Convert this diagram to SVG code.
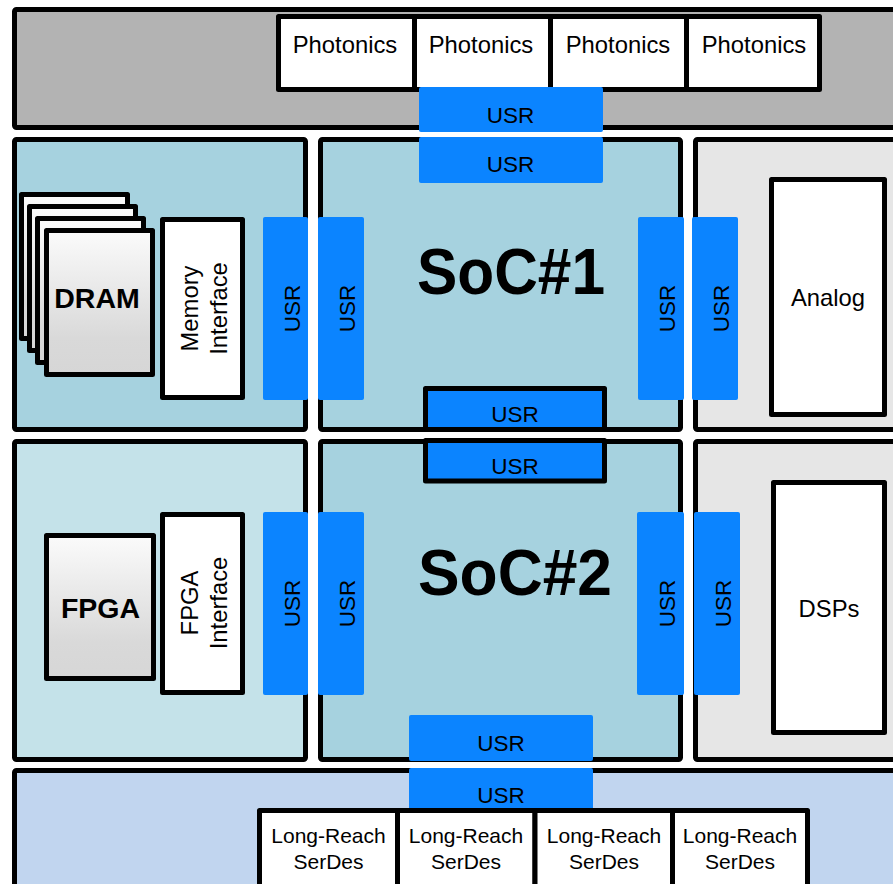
<svg xmlns="http://www.w3.org/2000/svg" width="893" height="884" viewBox="0 0 893 884">
<defs>
<linearGradient id="chip" x1="0" y1="0" x2="0" y2="1">
<stop offset="0" stop-color="#fbfbfb"/>
<stop offset="0.75" stop-color="#d9d9d9"/>
<stop offset="1" stop-color="#d6d6d6"/>
</linearGradient>
<style>
.pan{stroke:#000;stroke-width:5;stroke-linejoin:round}
.box{fill:#fff;stroke:#000;stroke-width:5;stroke-linejoin:round}
.chip{fill:url(#chip);stroke:#000;stroke-width:5;stroke-linejoin:round}
.usr{fill:#0b84ff}
.usrb{fill:#0b84ff;stroke:#000;stroke-width:5;stroke-linejoin:round}
text{font-family:"Liberation Sans",Arial,Helvetica,sans-serif;fill:#000}
.t{font-size:23.8px;text-anchor:middle}
.u{font-size:22.5px;text-anchor:middle}
.lr{font-size:21px;text-anchor:middle}
.b{font-size:28.5px;font-weight:bold;text-anchor:middle}
.soc{font-size:65px;font-weight:bold;text-anchor:middle}
</style>
</defs>
<rect width="893" height="884" fill="#fff"/>

<g id="photonics-panel">
<rect class="pan" x="14.5" y="9.5" width="900" height="118" rx="2" fill="#b3b3b3"/>
<rect class="box" x="278.5" y="16.5" width="136" height="73"/>
<rect class="box" x="414.5" y="16.5" width="136" height="73"/>
<rect class="box" x="550.5" y="16.5" width="136" height="73"/>
<rect class="box" x="686.5" y="16.5" width="133" height="73"/>
<text class="t" x="345" y="53">Photonics</text>
<text class="t" x="481" y="53">Photonics</text>
<text class="t" x="618" y="53">Photonics</text>
<text class="t" x="754" y="53">Photonics</text>
</g>

<g id="memory-panel">
<rect class="pan" x="14.5" y="139.5" width="291" height="290" rx="2" fill="#a6d2df"/>
<rect class="chip" x="21.5" y="194.5" width="106" height="144"/>
<rect class="chip" x="29.5" y="206.5" width="106" height="144"/>
<rect class="chip" x="37.5" y="218.5" width="106" height="144"/>
<rect class="chip" x="46.5" y="230.5" width="106" height="144"/>
<text class="b" x="97" y="308">DRAM</text>
<rect class="box" x="162.5" y="219.5" width="80" height="178"/>
<text class="t" transform="translate(0,308.5) rotate(-90)"><tspan x="0" y="198">Memory</tspan><tspan x="0" y="227">Interface</tspan></text>
</g>

<g id="soc1">
<rect class="pan" x="320.5" y="139.5" width="360" height="290" rx="2" fill="#a6d2df"/>
<text class="soc" x="511" y="294" textLength="188" lengthAdjust="spacingAndGlyphs">SoC#1</text>
</g>

<g id="analog-panel">
<rect class="pan" x="695.5" y="139.5" width="300" height="290" rx="2" fill="#e6e6e6"/>
<rect class="box" x="771.5" y="179.5" width="113" height="235"/>
<text class="t" x="828" y="306">Analog</text>
</g>

<g id="fpga-panel">
<rect class="pan" x="14.5" y="441.5" width="291" height="318" rx="2" fill="#c4e2e9"/>
<rect class="chip" x="46.5" y="535.5" width="107" height="143"/>
<text class="b" x="100.5" y="618">FPGA</text>
<rect class="box" x="162.5" y="514.5" width="80" height="178"/>
<text class="t" transform="translate(0,603) rotate(-90)"><tspan x="0" y="198">FPGA</tspan><tspan x="0" y="227">Interface</tspan></text>
</g>

<g id="soc2">
<rect class="pan" x="320.5" y="441.5" width="360" height="318" rx="2" fill="#a6d2df"/>
<text class="soc" x="515" y="595" textLength="194" lengthAdjust="spacingAndGlyphs">SoC#2</text>
</g>

<g id="dsp-panel">
<rect class="pan" x="695.5" y="441.5" width="300" height="318" rx="2" fill="#e6e6e6"/>
<rect class="box" x="773.5" y="482.5" width="111" height="250"/>
<text class="t" x="829" y="617">DSPs</text>
</g>

<g id="serdes-panel">
<rect class="pan" x="14.5" y="770.5" width="900" height="130" rx="2" fill="#c1d5ef"/>
</g>

<g id="connectors">
<rect class="usr" x="419" y="87" width="184" height="45" rx="2"/>
<text class="u" x="510.5" y="123">USR</text>
<rect class="usr" x="419" y="137" width="184" height="46" rx="2"/>
<text class="u" x="510.5" y="172">USR</text>

<rect class="usr" x="263" y="217" width="45" height="183" rx="2"/>
<text class="u" transform="translate(300,308.5) rotate(-90)">USR</text>
<rect class="usr" x="318" y="217" width="46" height="183" rx="2"/>
<text class="u" transform="translate(355,308.5) rotate(-90)">USR</text>
<rect class="usr" x="638" y="217" width="46" height="183" rx="2"/>
<text class="u" transform="translate(675,308.5) rotate(-90)">USR</text>
<rect class="usr" x="692" y="217" width="46" height="183" rx="2"/>
<text class="u" transform="translate(729,308.5) rotate(-90)">USR</text>

<rect class="usrb" x="425.5" y="388.5" width="179" height="41"/>
<text class="u" x="515" y="422">USR</text>
<rect class="usrb" x="425.5" y="440.5" width="179" height="40.5"/>
<text class="u" x="515" y="474">USR</text>

<rect class="usr" x="263" y="512" width="45" height="183" rx="2"/>
<text class="u" transform="translate(300,603.5) rotate(-90)">USR</text>
<rect class="usr" x="318" y="512" width="46" height="183" rx="2"/>
<text class="u" transform="translate(355,603.5) rotate(-90)">USR</text>
<rect class="usr" x="637" y="512" width="47" height="183" rx="2"/>
<text class="u" transform="translate(675,603.5) rotate(-90)">USR</text>
<rect class="usr" x="694" y="512" width="46" height="183" rx="2"/>
<text class="u" transform="translate(731,603.5) rotate(-90)">USR</text>

<rect class="usr" x="409" y="715" width="184" height="46" rx="2"/>
<text class="u" x="501" y="751">USR</text>
<rect class="usr" x="409" y="768" width="184" height="42" rx="2"/>
<text class="u" x="501" y="803">USR</text>
</g>

<g id="serdes">
<rect class="box" x="259.5" y="810.5" width="138" height="90"/>
<rect class="box" x="397.5" y="810.5" width="137.5" height="90"/>
<rect class="box" x="535" y="810.5" width="137.5" height="90"/>
<rect class="box" x="672.5" y="810.5" width="135" height="90"/>
<text class="lr" x="328.5" y="843">Long-Reach</text>
<text class="lr" x="328.5" y="869">SerDes</text>
<text class="lr" x="466" y="843">Long-Reach</text>
<text class="lr" x="466" y="869">SerDes</text>
<text class="lr" x="604" y="843">Long-Reach</text>
<text class="lr" x="604" y="869">SerDes</text>
<text class="lr" x="740" y="843">Long-Reach</text>
<text class="lr" x="740" y="869">SerDes</text>
</g>
</svg>
